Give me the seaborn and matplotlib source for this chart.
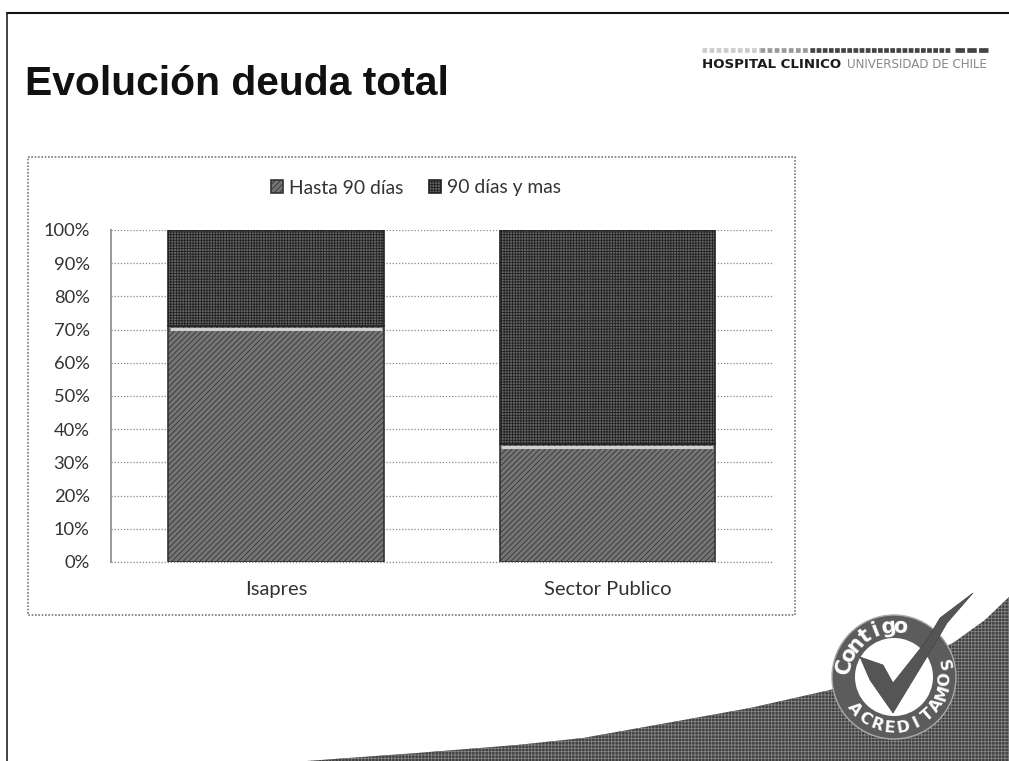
import numpy as np
import pandas as pd
import matplotlib
matplotlib.use("Agg")
import matplotlib.pyplot as plt
from matplotlib.patches import Polygon, Circle, Rectangle
import seaborn as sns

categories = ["Isapres", "Sector Publico"]
hasta_90 = [71, 35.5]
mas_90 = [29, 64.5]
series_names = ["Hasta 90 días", "90 días y mas"]
tick_values = list(range(0, 101, 10))
tick_labels = [f"{v}%" for v in tick_values]

sns.set_theme(style="white")
plt.rcParams["font.family"] = ["Lato", "DejaVu Sans"]
plt.rcParams["hatch.linewidth"] = 0.6

W, H = 1009, 761
fig = plt.figure(figsize=(W / 100, H / 100), dpi=100, facecolor="white")

# Decoration layer in pixel coordinates
bg = fig.add_axes([0, 0, 1, 1], zorder=0)
bg.set_xlim(0, W)
bg.set_ylim(H, 0)
bg.axis("off")
bg.plot([7, W], [13, 13], color="#111111", lw=1.5)
bg.plot([7, 7], [13, H], color="#222222", lw=1.2)
bg.add_patch(Rectangle((28, 157), 767, 458, fill=False, ec="#777777", lw=1.2, ls=(0, (1, 1))))
bg.text(25, 95, "Evolución deuda total", fontsize=29.3, fontweight="bold",
        family="Liberation Sans", color="#111111", va="baseline", ha="left")
bg.plot([702, 760], [49.5, 49.5], color="#cccccc", lw=3.4, ls=(0, (1, 0.5)))
bg.plot([760, 810], [49.5, 49.5], color="#999999", lw=3.4, ls=(0, (1, 0.5)))
bg.plot([810, 950], [49.5, 49.5], color="#444444", lw=3.4, ls=(0, (1, 0.3)))
bg.plot([955, 988], [49.5, 49.5], color="#444444", lw=3.4, ls=(0, (2, 0.5)))
bg.text(702, 68, "HOSPITAL CLINICO", fontsize=9.6, fontweight="bold", family="DejaVu Sans",
        color="#1a1a1a", va="baseline", ha="left")
bg.text(847, 68, "UNIVERSIDAD DE CHILE", fontsize=8.6, family="DejaVu Sans",
        color="#888888", va="baseline", ha="left")

swoosh = [(307, 761), (417, 753), (517, 745), (583, 738), (667, 723), (750, 708),
          (830, 690), (900, 668), (953, 643), (985, 620), (1009, 597), (1009, 761)]
bg.add_patch(Polygon(swoosh, closed=True, fc="#3f3f3f", ec="#858585", lw=0, hatch="+++++", zorder=2))

cx, cy = 894, 677
bg.add_patch(Circle((cx, cy), 62, fc="#5c5c5c", ec="#aaaaaa", lw=1, zorder=3))
bg.add_patch(Circle((cx, cy), 39, fc="white", ec="none", zorder=4))
check = [(860, 657), (883, 665), (893, 683), (927, 640), (940, 618), (973, 593),
         (947, 623), (933, 647), (893, 713), (870, 680)]
bg.add_patch(Polygon(check, closed=True, fc="#555555", ec="#444444", lw=0.5, zorder=5))


def arc_text(word, start, stop, radius, size):
    for ch, ang in zip(word, np.linspace(start, stop, len(word))):
        a = np.deg2rad(ang)
        x, y = cx + radius * np.cos(a), cy - radius * np.sin(a)
        rot = ang - 90 if 0 < ang % 360 < 180 else ang + 90
        bg.text(x, y, ch, fontsize=size, fontweight="bold", color="white", ha="center",
                va="center", rotation=rot, rotation_mode="anchor", family="DejaVu Sans", zorder=6)


arc_text("Contigo", 168, 83, 50, 15)
arc_text("ACREDITAMOS", 219, 373, 51, 11.5)

# Chart
ax = fig.add_axes([110.5 / W, 1 - 562 / H, 662.5 / W, 332 / H], zorder=1)
ax.patch.set_alpha(0)
df = pd.DataFrame({"categoria": categories, "hasta": hasta_90, "mas": mas_90})
sns.barplot(data=df, x="categoria", y="hasta", ax=ax, width=0.65, color="#757575",
            saturation=1, edgecolor="#333333", linewidth=1.2, hatch="//////",
            label=series_names[0], legend=False)
sns.barplot(data=df, x="categoria", y="mas", bottom=df["hasta"], ax=ax, width=0.65, color="#666666",
            saturation=1, edgecolor="#222222", linewidth=1.2, hatch="++++++",
            label=series_names[1], legend=False)
for i, v in enumerate(hasta_90):
    ax.hlines(v - 0.9, i - 0.32, i + 0.32, color="#d0d0d0", lw=2.2, zorder=5)

ax.set_ylim(0, 100)
ax.set_xlim(-0.5, 1.5)
ax.set_yticks(tick_values, tick_labels)
ax.set_xlabel("")
ax.set_ylabel("")
ax.grid(axis="y", color="#888888", lw=0.9, ls=(0, (1, 1.5)))
ax.set_axisbelow(True)
for s in ["top", "right", "bottom"]:
    ax.spines[s].set_visible(False)
ax.axhline(0, color="#888888", lw=0.9, ls=(0, (1, 1.5)), clip_on=False, zorder=0.5)
ax.spines["left"].set_color("#999999")
ax.spines["left"].set_linewidth(1.4)
ax.spines["left"].set_linestyle((0, (1, 1)))
ax.tick_params(axis="y", labelsize=13.2, labelcolor="#333333", length=0, pad=15)
ax.tick_params(axis="x", labelsize=14.5, labelcolor="#333333", length=0, pad=14)

handles, labels = ax.get_legend_handles_labels()
seen = dict(zip(labels, handles))
ax.legend(seen.values(), seen.keys(), ncol=2, frameon=False, loc="center",
          bbox_to_anchor=((416 - 110.5) / 662.5, (562 - 188) / 332), fontsize=13.9,
          handlelength=0.65, handleheight=0.65, handletextpad=0.3, columnspacing=1.3,
          labelcolor="#333333")

fig.savefig("out.png", dpi=100, facecolor="white")
